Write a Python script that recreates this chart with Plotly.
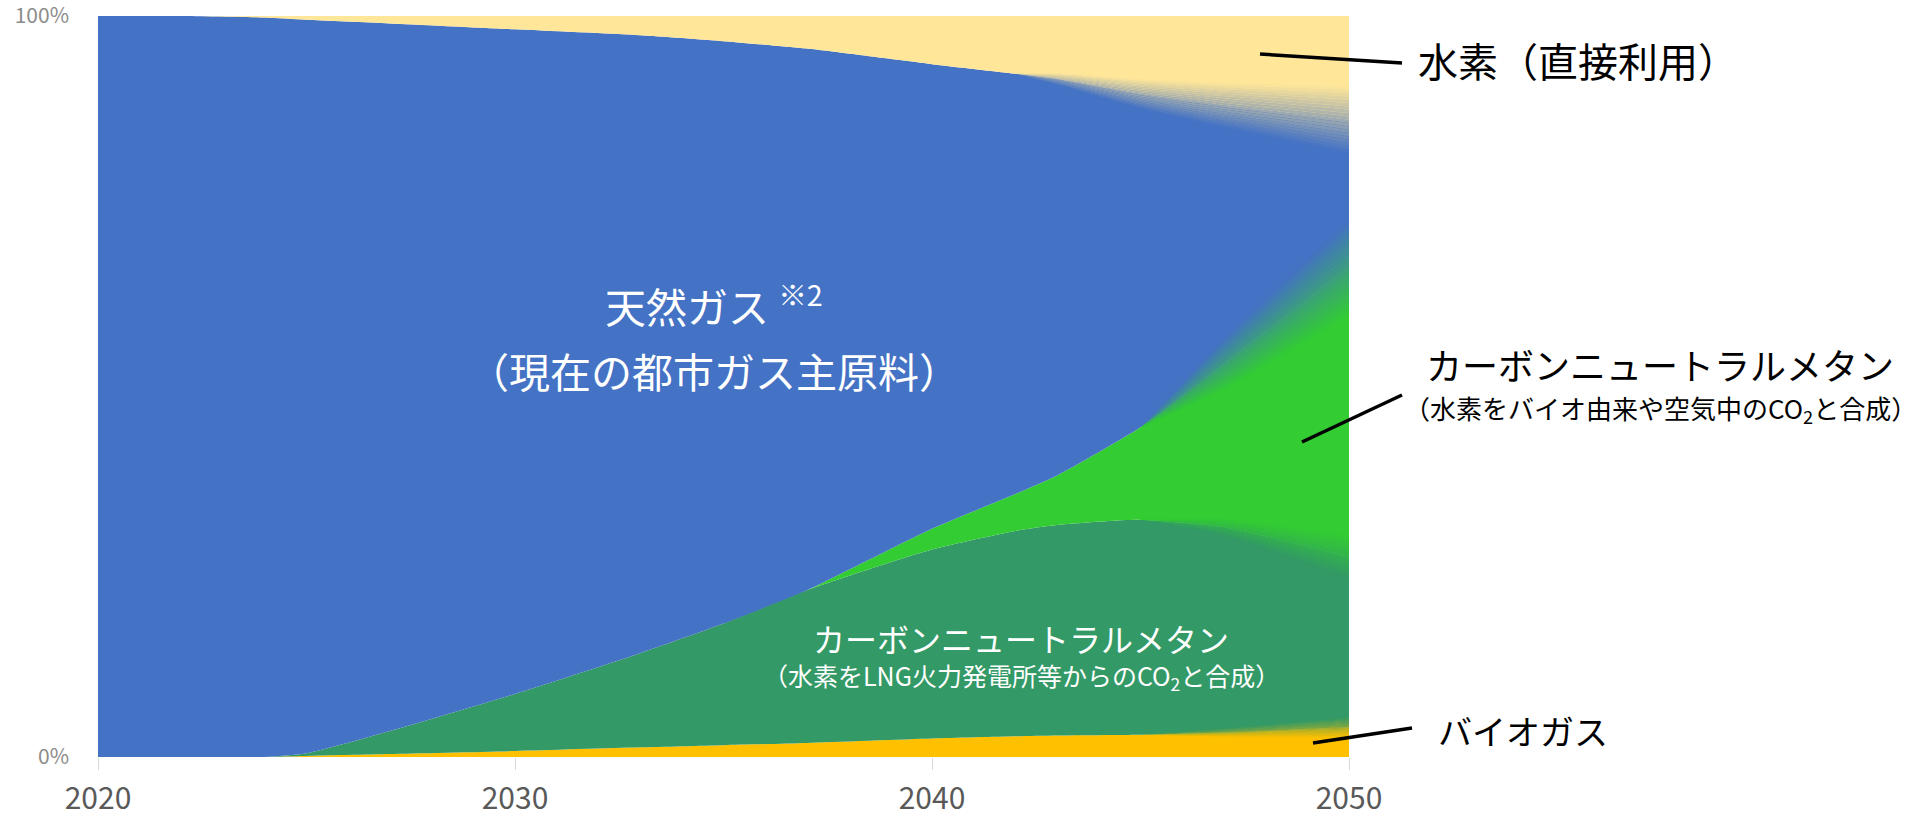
import plotly.graph_objects as go

# ---------------- data (share of city-gas supply, %) ----------------
years = [2020, 2022, 2024, 2025, 2027, 2030, 2033, 2035, 2037, 2040, 2042, 2043, 2045, 2047, 2050]
biogas = [0, 0, 0, 0.15, 0.4, 0.8, 1.3, 1.6, 1.9, 2.5, 2.8, 2.9, 3.0, 3.3, 4.0]
cn_methane_lng = [0, 0, 0, 0.35, 3.1, 7.7, 12.7, 16.4, 20.6, 25.5, 27.7, 28.4, 29.0, 27.7, 23.0]
cn_methane_bio = [0, 0, 0, 0, 0, 0, 0, 0, 0, 2.8, 5.0, 6.7, 12.5, 22.0, 39.0]
natural_gas = [100, 100, 99.8, 99.0, 95.5, 89.7, 83.4, 78.6, 73.1, 62.7, 56.7, 53.5, 45.0, 35.0, 20.0]
hydrogen = [0, 0, 0.2, 0.5, 1.0, 1.8, 2.6, 3.4, 4.4, 6.5, 7.8, 8.5, 10.5, 12.0, 14.0]

x_tickvals = [2020, 2030, 2040, 2050]
y_tickvals = [0, 100]
y_ticktext = ["0%", "100%"]

# ---------------- styles ----------------
C_BIO = "#FFC000"
C_LNG = "#339966"
C_CNB = "#33CC33"
C_NG = "#4472C4"
C_H2 = "#FFE699"
FONT = "Noto Sans CJK JP"
SHAPE = dict(shape="spline", smoothing=0.6)

W, H = 1922, 818
PL, PR, PT, PB = 98, 1349, 16, 757  # plot area in pixels


def px(x):
    return (x - PL) / (PR - PL)


def py(y):
    return (PB - y) / (PB - PT)


def hex2rgb(h):
    h = h.lstrip("#")
    return tuple(int(h[i:i + 2], 16) for i in (0, 2, 4))


def mix(c1, c2, t):
    a, b = hex2rgb(c1), hex2rgb(c2)
    return "rgb(%d,%d,%d)" % tuple(round(a[i] + (b[i] - a[i]) * t) for i in range(3))


fig = go.Figure()

layers = [
    ("バイオガス", biogas, C_BIO),
    ("カーボンニュートラルメタン（LNG火力CO2）", cn_methane_lng, C_LNG),
    ("カーボンニュートラルメタン（バイオ・空気中CO2）", cn_methane_bio, C_CNB),
    ("天然ガス", natural_gas, C_NG),
    ("水素（直接利用）", hydrogen, C_H2),
]
for name, vals, col in layers:
    fig.add_trace(go.Scatter(
        x=years, y=vals, name=name, mode="lines", stackgroup="one",
        line=dict(width=0, color=col, **SHAPE), fillcolor=col, showlegend=False,
        hoverinfo="x+y+name",
    ))

# soft (blurred) boundaries towards 2050, as in the original graphic
cum1 = [a for a in biogas]
cum2 = [a + b for a, b in zip(cum1, cn_methane_lng)]
cum3 = [a + b for a, b in zip(cum2, cn_methane_bio)]
cum4 = [a + b for a, b in zip(cum3, natural_gas)]

blur_styles = [
    (cum4, C_NG, C_H2, {2042: 0, 2043: 0.8, 2045: 2.0, 2047: 3.0, 2050: 4.5}),
    (cum3, C_CNB, C_NG, {2045: 0, 2047: 3.5, 2050: 6.5}),
    (cum2, C_LNG, C_CNB, {2045: 0, 2047: 1.2, 2050: 3.0}),
    (cum1, C_BIO, C_LNG, {2045: 0, 2047: 0.6, 2050: 1.4}),
]
NB = 20
for base, c_lo, c_hi, hw in blur_styles:
    idx = [i for i, yv in enumerate(years) if yv in hw]
    xs = [years[i] for i in idx]
    lo = [base[i] - hw[years[i]] for i in idx]
    hi = [base[i] + hw[years[i]] for i in idx]
    for k in range(NB + 1):
        t = k / NB
        edge = [l + (h - l) * t for l, h in zip(lo, hi)]
        col = mix(c_lo, c_hi, (k - 0.5) / NB) if k > 0 else c_lo
        fig.add_trace(go.Scatter(
            x=xs, y=edge, mode="lines", line=dict(width=0, color=col, **SHAPE),
            fill="tonexty" if k > 0 else "none", fillcolor=col,
            showlegend=False, hoverinfo="skip",
        ))

ann = []


def label(text, x, y, size, color, xanchor="center"):
    ann.append(dict(text=text, x=px(x), y=py(y), xref="paper", yref="paper",
                    xanchor=xanchor, yanchor="middle", showarrow=False,
                    font=dict(family=FONT, size=size, color=color)))


label("天然ガス <sup>※2</sup>", 714, 304, 41, "white")
label("（現在の都市ガス主原料）", 714, 370, 41, "white")
label("カーボンニュートラルメタン", 1021, 638, 32, "white")
label("（水素をLNG火力発電所等からのCO<sub>2</sub>と合成）", 1021, 676, 25, "white")
label("水素（直接利用）", 1416, 60, 40, "black", "left")
label("カーボンニュートラルメタン", 1660, 364, 36, "black")
label("（水素をバイオ由来や空気中のCO<sub>2</sub>と合成）", 1660, 409, 26, "black")
label("バイオガス", 1436, 730, 34, "black", "left")

shapes = []
for (x0, y0, x1, y1) in [(1260, 54, 1402, 63), (1302, 442, 1402, 395), (1313, 743, 1412, 728)]:
    shapes.append(dict(type="line", xref="paper", yref="paper",
                       x0=px(x0), y0=py(y0), x1=px(x1), y1=py(y1),
                       line=dict(color="black", width=3.5)))

fig.update_layout(
    width=W, height=H, autosize=False,
    margin=dict(l=PL, r=W - PR, t=PT, b=H - PB, pad=0),
    paper_bgcolor="white", plot_bgcolor="white",
    annotations=ann, shapes=shapes, showlegend=False,
    font=dict(family=FONT),
)
fig.update_xaxes(
    range=[2020, 2050], tickvals=x_tickvals, ticks="outside", ticklen=12,
    tickcolor="#D9D9D9", tickwidth=1, showgrid=False, zeroline=False, showline=False,
    tickfont=dict(family=FONT, size=30, color="#595959"), ticklabelstandoff=3,
    automargin=False, ticklabeloverflow="allow",
)
fig.update_yaxes(
    range=[0, 100], tickvals=y_tickvals, ticktext=y_ticktext, ticks="",
    showgrid=False, zeroline=False, showline=False,
    tickfont=dict(family=FONT, size=21, color="#8C8C8C"), ticklabelstandoff=28,
    automargin=False, ticklabeloverflow="allow",
)

fig.write_html("out.html")
